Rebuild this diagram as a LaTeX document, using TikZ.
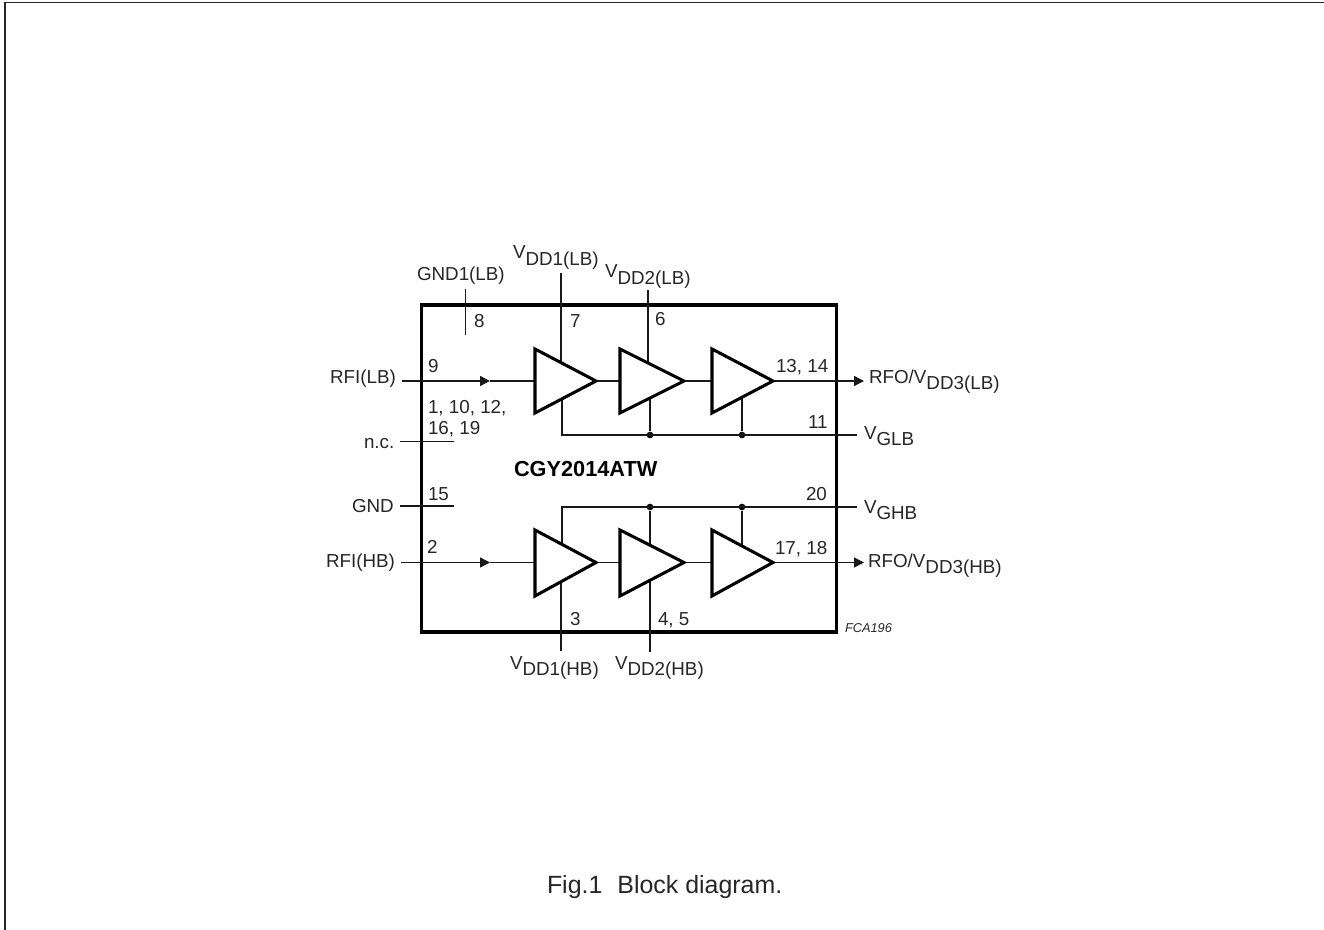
\documentclass[tikz,border=0pt]{standalone}
\usepackage{fontspec}
\setmainfont{Liberation Sans}
\usetikzlibrary{arrows.meta}
\newcommand{\lowered}[1]{\raisebox{-4.8pt}{#1}}
\tikzset{
  x=0.75pt,y=-0.75pt,
  lbl/.style={anchor=base west,inner sep=0pt,outer sep=0pt,font=\fontsize{14.1}{16}\selectfont,text=black!85},
  boldlbl/.style={lbl,font=\fontsize{16.3}{18}\selectfont\bfseries,text=black},
  tag/.style={lbl,font=\fontsize{9.6}{11}\selectfont\itshape},
  caption/.style={lbl,font=\fontsize{18.7}{20}\selectfont},
  wire/.style={line width=1pt,black!90},
  chip/.style={line width=2.3pt,black,line join=miter},
  amp/.style={line width=2.3pt,black,fill=white,line join=miter},
  flow/.style={wire,-{Triangle[length=7.5pt,width=7.5pt]}},
  joint/.style={circle,fill=black,inner sep=0pt,minimum size=5pt},
  frameline/.style={line width=1.1pt,black!85}
}
\begin{document}
\begin{tikzpicture}
\useasboundingbox (0,0) rectangle (1324,930);
\coordinate (fa) at (5,930); \coordinate (fb) at (5,2.5); \coordinate (fc) at (1324,2.5);
\draw[frameline] (fa) -- (fb) -- (fc);
\draw[chip] (421.5,305) rectangle (836.5,632);

% free ends
\coordinate (gndone) at (465.7,289); \coordinate (gndoneb) at (465.7,335);
\coordinate (vaT) at (561,273); \coordinate (vaB) at (561,381);
\coordinate (vbT) at (648,290); \coordinate (vbB) at (648,381);
\coordinate (rfiA) at (402,381); \coordinate (rfiAm) at (490,381);
\coordinate (ncA) at (400,441.3); \coordinate (ncB) at (454,441.3);
\coordinate (gndA) at (400,506); \coordinate (gndB) at (454,506);
\coordinate (rfiB) at (401,562.5); \coordinate (rfiBm) at (490,562.5);
\coordinate (gl) at (562,435); \coordinate (glE) at (857,435);
\coordinate (gh) at (562,507); \coordinate (ghE) at (857,507);
\coordinate (glu) at (562,381); \coordinate (ghd) at (562,562.5);
\coordinate (vcT) at (561,651); \coordinate (vcB) at (561,562.5);
\coordinate (vdT) at (650,652); \coordinate (vdB) at (650,562.5);
\coordinate (outA) at (864,381); \coordinate (outB) at (864,562.5);
\node[joint] (j1) at (650,435) {}; \node[joint] (j2) at (742,435) {};
\node[joint] (j3) at (650,507) {}; \node[joint] (j4) at (742,507) {};
\coordinate (j1u) at (650,381); \coordinate (j2u) at (742,381);
\coordinate (j3d) at (650,562.5); \coordinate (j4d) at (742,562.5);

% amplifier corners
\coordinate (a1) at (535,349); \coordinate (a1b) at (535,413); \coordinate (a1p) at (596,381); \coordinate (a1i) at (535,381);
\coordinate (a2) at (620,349); \coordinate (a2b) at (620,413); \coordinate (a2p) at (684,381); \coordinate (a2i) at (620,381);
\coordinate (a3) at (712,349); \coordinate (a3b) at (712,413); \coordinate (a3p) at (773,381); \coordinate (a3i) at (712,381);
\coordinate (b1) at (535,530); \coordinate (b1b) at (535,596); \coordinate (b1p) at (596,562.5); \coordinate (b1i) at (535,562.5);
\coordinate (b2) at (620,530); \coordinate (b2b) at (620,596); \coordinate (b2p) at (684,562.5); \coordinate (b2i) at (620,562.5);
\coordinate (b3) at (712,530); \coordinate (b3b) at (712,596); \coordinate (b3p) at (773,562.5); \coordinate (b3i) at (712,562.5);

% connectors
\draw[wire] (gndone) -- (gndoneb);
\draw[wire] (vaT) -- (vaB);
\draw[wire] (vbT) -- (vbB);
\draw[wire] (ncA) -- (ncB);
\draw[wire] (gndA) -- (gndB);
\draw[flow] (rfiA) -- (rfiAm);
\draw[wire] (rfiAm) -- (a1i);
\draw[flow] (rfiB) -- (rfiBm);
\draw[wire] (rfiBm) -- (b1i);
\draw[wire] (glu) -- (gl) -- (glE);
\draw[wire] (ghd) -- (gh) -- (ghE);
\draw[wire] (j1) -- (j1u);
\draw[wire] (j2) -- (j2u);
\draw[wire] (j3) -- (j3d);
\draw[wire] (j4) -- (j4d);
\draw[wire] (vcT) -- (vcB);
\draw[wire] (vdT) -- (vdB);
\draw[wire] (a1p) -- (a2i);
\draw[wire] (a2p) -- (a3i);
\draw[wire] (b1p) -- (b2i);
\draw[wire] (b2p) -- (b3i);
\draw[flow] (a3p) -- (outA);
\draw[flow] (b3p) -- (outB);

% amplifiers
\draw[amp] (a1) -- (a1p) -- (a1b) -- cycle;
\draw[amp] (a2) -- (a2p) -- (a2b) -- cycle;
\draw[amp] (a3) -- (a3p) -- (a3b) -- cycle;
\draw[amp] (b1) -- (b1p) -- (b1b) -- cycle;
\draw[amp] (b2) -- (b2p) -- (b2b) -- cycle;
\draw[amp] (b3) -- (b3p) -- (b3b) -- cycle;

% labels
\node[lbl] (l1) at (417,281) {GND1(LB)};
\node[lbl] (l2) at (513,259) {V\lowered{DD1(LB)}};
\node[lbl] (l3) at (605,278) {V\lowered{DD2(LB)}};
\node[lbl] (l4) at (474,328) {8};
\node[lbl] (l5) at (570,328) {7};
\node[lbl] (l6) at (655,326) {6};
\node[lbl] (l7) at (330,383) {RFI(LB)};
\node[lbl] (l8) at (428,373) {9};
\node[lbl] (l9) at (428,413) {1, 10, 12,};
\node[lbl] (l10) at (428,434) {16, 19};
\node[lbl] (l11) at (364,448) {n.c.};
\node[lbl] (l12) at (776,373) {13, 14};
\node[lbl] (l13) at (869,383) {RFO/V\lowered{DD3(LB)}};
\node[lbl] (l14) at (808,428) {11};
\node[lbl] (l15) at (864,439) {V\lowered{GLB}};
\node[boldlbl] (l16) at (514,476) {CGY2014ATW};
\node[lbl] (l17) at (428,500) {15};
\node[lbl] (l18) at (352,512) {GND};
\node[lbl] (l19) at (427,553) {2};
\node[lbl] (l20) at (326,567) {RFI(HB)};
\node[lbl] (l21) at (570,625) {3};
\node[lbl] (l22) at (658,625) {4, 5};
\node[lbl] (l23) at (510,669) {V\lowered{DD1(HB)}};
\node[lbl] (l24) at (615,669) {V\lowered{DD2(HB)}};
\node[lbl] (l25) at (806,500) {20};
\node[lbl] (l26) at (864,513) {V\lowered{GHB}};
\node[lbl] (l27) at (775,554) {17, 18};
\node[lbl] (l28) at (868,567) {RFO/V\lowered{DD3(HB)}};
\node[tag] (l29) at (845,632) {FCA196};
\node[caption] (l30) at (547,893) {Fig.1\hspace{0.6em}Block diagram.};
\end{tikzpicture}
\end{document}
